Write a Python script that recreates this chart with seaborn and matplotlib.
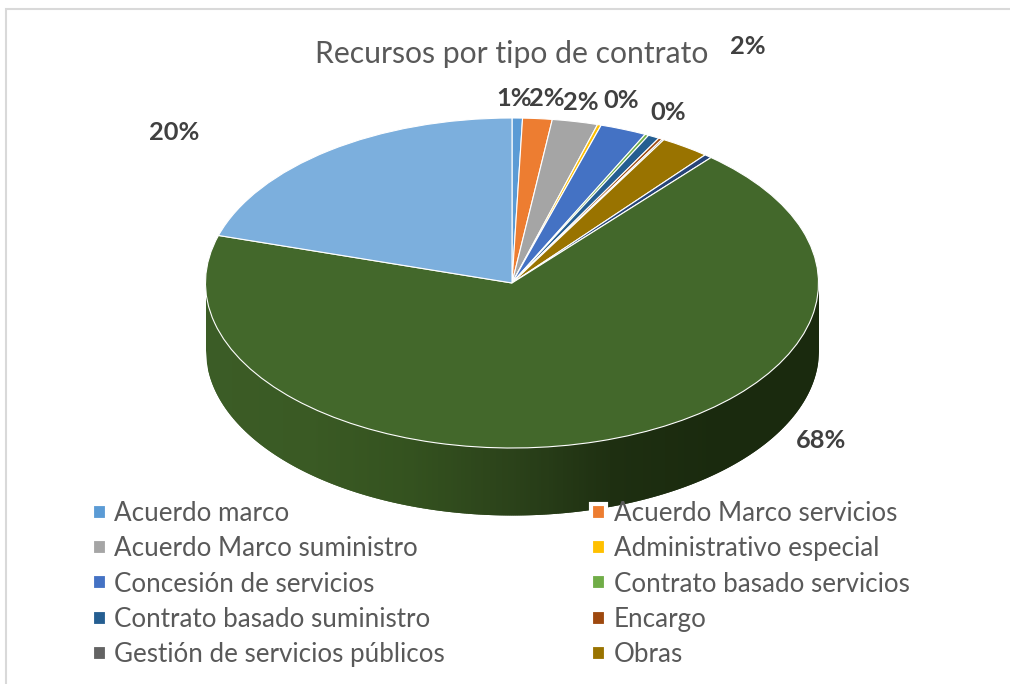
import numpy as np
import matplotlib
matplotlib.use("Agg")
import matplotlib.pyplot as plt
from matplotlib.patches import Rectangle
import seaborn as sns

categories = ["Acuerdo marco", "Acuerdo Marco servicios", "Acuerdo Marco suministro",
              "Administrativo especial", "Concesión de servicios", "Contrato basado servicios",
              "Contrato basado suministro", "Encargo", "Gestión de servicios públicos", "Obras"]
# the last three slices have no visible legend entry
values = [0.55, 1.55, 2.4, 0.2, 2.45, 0.2, 0.6, 0.2, 0.1, 2.6, 0.4, 68.4, 20.35]
colors = ["#5B9BD5", "#ED7D31", "#A5A5A5", "#FFC000", "#4472C4", "#70AD47", "#255E91",
          "#9E480E", "#636363", "#997300", "#264478", "#43682B", "#7CAFDD"]
side_colors = ["#3B5C26", "#3A5A24", "#34521F", "#2B421A", "#1E2F11", "#1A2A0E", "#1A2A0E"]

W, H = 1010, 684
CX, CY, RX, RY, DEPTH = 512, 283, 306.5, 165, 67

sns.set_theme(style="white")
plt.rcParams["font.family"] = ["Lato", "DejaVu Sans"]

fig = plt.figure(figsize=(W / 100, H / 100), dpi=100)
ax = fig.add_axes([0, 0, 1, 1])

wedges, _ = ax.pie(values, colors=colors, startangle=90, counterclock=False,
                   wedgeprops={"edgecolor": "white", "linewidth": 0.8, "zorder": 3})
ax.set_aspect("auto")
ax.set_xlim(-CX / RX, (W - CX) / RX)
ax.set_ylim((CY - H) / RY, CY / RY)

# side of the disc, dark green with a horizontal gradient
n = 300
pal = sns.blend_palette(side_colors, n)
xs = np.linspace(-1, 1, n + 1)
d = DEPTH / RY
for i in range(n):
    # strips overlap the next one so no seams show
    x = np.linspace(xs[i], xs[min(i + 2, n)], 5)
    top = -np.sqrt(np.clip(1 - x ** 2, 0, None))
    ax.fill_between(x, top - d, top + 0.02, color=pal[i], lw=0, zorder=1)


def px(x, y):
    return (x - CX) / RX, (CY - y) / RY


# data labels: slice index and pixel position
label_pos = {0: (514, 98), 1: (547, 98), 2: (581, 102), 3: (621, 101), 4: (748, 46),
             7: (668, 113), 11: (821, 440), 12: (174, 132)}
for i, pos in label_pos.items():
    ax.text(*px(*pos), f"{values[i]:.0f}%", ha="center", va="center", fontsize=18.3,
            fontweight="bold", color="#404040", zorder=5)

ax.text(*px(512, 54), "Recursos por tipo de contrato", ha="center", va="center",
        fontsize=21.7, color="#595959", zorder=5)

order = [0, 2, 4, 6, 8, 1, 3, 5, 7, 9]
leg = ax.legend([wedges[i] for i in order], [categories[i] for i in order], ncol=2,
                loc="upper left", bbox_to_anchor=(91.5 / W, 1 - 501 / H), frameon=False,
                fontsize=18.7, labelcolor="#595959", handlelength=0.58, handleheight=0.58,
                handletextpad=0.29, columnspacing=5.63, labelspacing=0.395,
                borderpad=0, borderaxespad=0)
leg.set_zorder(6)
for h in leg.legend_handles:
    h.set_linewidth(3)

fig.add_artist(Rectangle((6 / W, -0.02), 1.1, 1 - 9 / H + 0.02, transform=fig.transFigure,
                         fill=False, edgecolor="#D9D9D9", lw=1.5))

fig.savefig("out.png", dpi=100)
